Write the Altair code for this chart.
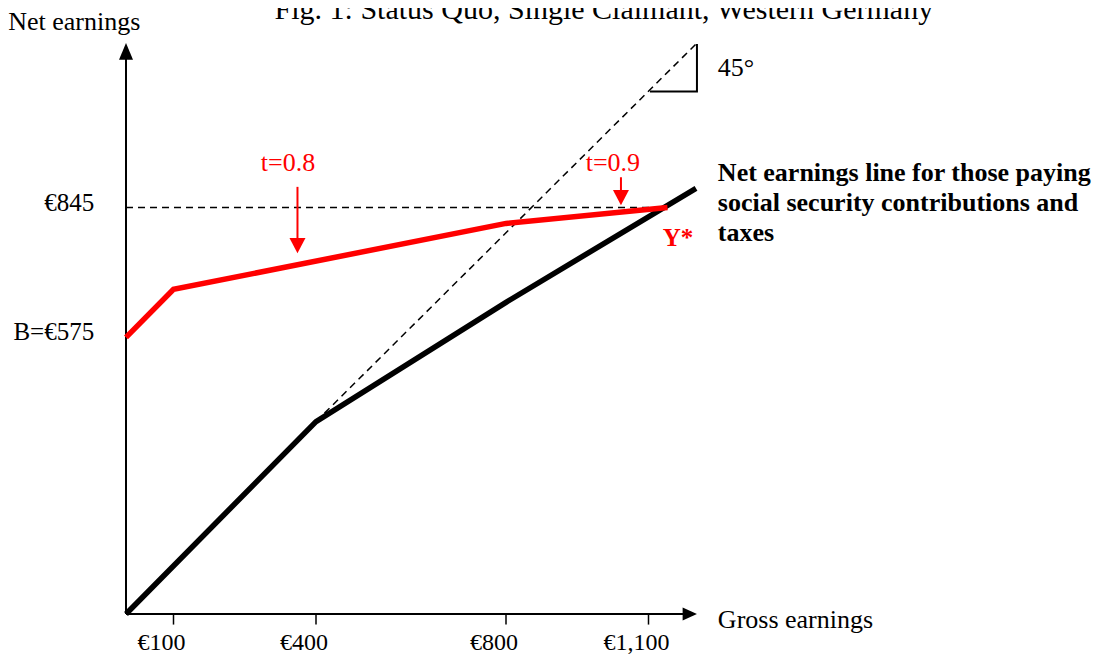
import altair as alt
import pandas as pd

FONT = "Liberation Serif"

# ---- data (euros) ----
gross_black = [0, 400, 800, 1200]
net_black = [0, 400, 648, 885]
gross_red = [0, 100, 800, 1140]
net_red = [575, 675, 812, 845]
diag_x = [400, 1200]
diag_y = [400, 1185]
threshold_net = 845
tick_values = [100, 400, 800, 1100]
tick_labels = ["€100", "€400", "€800", "€1,100"]
ylabel_values = [845, 575]
ylabel_texts = ["€845", "B=€575"]
rate_labels = ["t=0.8", "t=0.9"]
rate_label_x = [341, 1025]
rate_label_y = [938, 938]
rate_arrow_x = [361, 1042]
rate_arrow_top = [888, 908]
rate_arrow_tip = [750, 850]
legend_lines = ["Net earnings line for those paying",
                "social security contributions and",
                "taxes"]
legend_y = [917, 855, 792]

xs = alt.Scale(domain=[0, 1200], nice=False, zero=False)
ys = alt.Scale(domain=[0, 1185], nice=False, zero=False)


def X(f="x"):
    return alt.X(f"{f}:Q", scale=xs, axis=None)


def Y(f="y"):
    return alt.Y(f"{f}:Q", scale=ys, axis=None)


def X2(f="x2"):
    return alt.X2(f"{f}:Q")


def Y2(f="y2"):
    return alt.Y2(f"{f}:Q")


# axes lines
axes_df = pd.DataFrame({"x": [0, 0], "y": [0, 0], "x2": [1190, 0], "y2": [0, 1172]})
axes = alt.Chart(axes_df).mark_rule(color="black", strokeWidth=2).encode(
    x=X(), y=Y(), x2=X2(), y2=Y2())

ticks_df = pd.DataFrame({"x": tick_values, "y": [0] * 4, "y2": [-22] * 4})
ticks = alt.Chart(ticks_df).mark_rule(color="black", strokeWidth=1.5).encode(
    x=X(), y=Y(), y2=Y2())

xhead = alt.Chart(pd.DataFrame({"x": [1202], "y": [0]})).mark_point(
    shape="M0,0L-2.2,-1L-2.2,1Z", filled=True, color="black", opacity=1,
    size=169, strokeWidth=0).encode(x=X(), y=Y())
yhead = alt.Chart(pd.DataFrame({"x": [0], "y": [1187]})).mark_point(
    shape="M0,0L-1,2.4L1,2.4Z", filled=True, color="black", opacity=1,
    size=196, strokeWidth=0).encode(x=X(), y=Y())

diag = alt.Chart(pd.DataFrame({"x": diag_x, "y": diag_y})).mark_line(
    color="black", strokeWidth=1.5, strokeDash=[7, 5]).encode(x=X(), y=Y())

hdash = alt.Chart(pd.DataFrame({"x": [0], "x2": [gross_red[-1]], "y": [threshold_net]})).mark_rule(
    color="black", strokeWidth=1.5, strokeDash=[7, 5]).encode(x=X(), x2=X2(), y=Y())

tri_df = pd.DataFrame({"x": [1103, 1202, 1202], "y": [1086, 1086, 1185], "o": [0, 1, 2]})
tri = alt.Chart(tri_df).mark_line(color="black", strokeWidth=2).encode(
    x=X(), y=Y(), order="o:Q")

black = alt.Chart(pd.DataFrame({"x": gross_black, "y": net_black, "o": range(4)})).mark_line(
    color="black", strokeWidth=5.5, strokeJoin="miter").encode(x=X(), y=Y(), order="o:Q")

red = alt.Chart(pd.DataFrame({"x": gross_red, "y": net_red, "o": range(4)})).mark_line(
    color="#ff0000", strokeWidth=5.5, strokeJoin="miter").encode(x=X(), y=Y(), order="o:Q")

arr_df = pd.DataFrame({"x": rate_arrow_x, "y": rate_arrow_top,
                       "y2": [t + 20 for t in rate_arrow_tip], "tip": rate_arrow_tip})
arr_rules = alt.Chart(arr_df).mark_rule(color="#ff0000", strokeWidth=2).encode(
    x=X(), y=Y(), y2=Y2())
arr_heads = alt.Chart(arr_df).mark_point(
    shape="M0,0L-1,-1.9L1,-1.9Z", filled=True, color="#ff0000", opacity=1,
    size=256, strokeWidth=0).encode(x=X(), y=Y("tip"))

rate_txt = alt.Chart(pd.DataFrame({"x": rate_label_x, "y": rate_label_y, "t": rate_labels})).mark_text(
    font=FONT, fontSize=26, color="#ff0000", align="center", baseline="middle").encode(
    x=X(), y=Y(), text="t:N")

ystar = alt.Chart(pd.DataFrame({"x": [1162], "y": [782], "t": ["Y*"]})).mark_text(
    font=FONT, fontSize=25, fontWeight="bold", color="#ff0000", align="center",
    baseline="middle").encode(x=X(), y=Y(), text="t:N")

legend = alt.Chart(pd.DataFrame({"x": [1246] * 3, "y": legend_y, "t": legend_lines})).mark_text(
    font=FONT, fontSize=26, fontWeight="bold", color="black", align="left",
    baseline="middle").encode(x=X(), y=Y(), text="t:N")

tick_txt = alt.Chart(pd.DataFrame({"x": tick_values, "y": [0] * 4, "t": tick_labels})).mark_text(
    font=FONT, fontSize=24, color="black", align="center", baseline="alphabetic",
    dy=36, dx=-12).encode(x=X(), y=Y(), text="t:N")

ylab = alt.Chart(pd.DataFrame({"x": [-67] * 2, "y": ylabel_values, "t": ylabel_texts})).mark_text(
    font=FONT, fontSize=25, color="black", align="right", baseline="middle",
    dy=-5).encode(x=X(), y=Y(), text="t:N")

misc_df = pd.DataFrame({"x": [1246, 1246, -248], "y": [1135, -12, 1230],
                        "t": ["45°", "Gross earnings", "Net earnings"]})
misc = alt.Chart(misc_df).mark_text(
    font=FONT, fontSize=26, color="black", align="left", baseline="middle").encode(
    x=X(), y=Y(), text="t:N")

title = alt.Chart(pd.DataFrame({"x": [1006], "y": [1237],
                                "t": ["Fig. 1: Status Quo, Single Claimant, Western Germany"]})).mark_text(
    font=FONT, fontSize=30, color="black", align="center", baseline="alphabetic").encode(
    x=X(), y=Y(), text="t:N")

chart = alt.layer(
    diag, hdash, tri, axes, ticks, xhead, yhead, black, red,
    arr_rules, arr_heads, rate_txt, ystar, legend, tick_txt, ylab, misc, title
).properties(
    width=570, height=570,
    padding={"left": 118, "top": 36, "right": 402, "bottom": 42},
    autosize=alt.AutoSizeParams(type="none"),
    background="white",
).configure_view(stroke=None)

chart.save("out.html", embed_options={"renderer": "svg", "actions": False})
